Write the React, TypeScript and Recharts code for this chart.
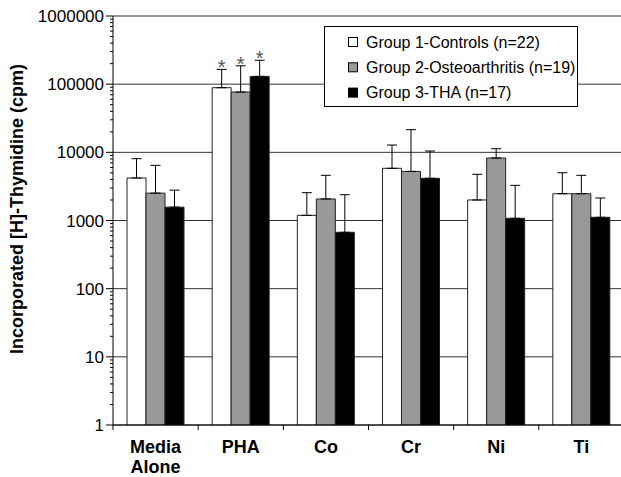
import React from "react";
import {
  Bar,
  BarChart,
  CartesianGrid,
  ErrorBar,
  LabelList,
  Legend,
  XAxis,
  YAxis,
} from "recharts";

const categories = ["Media Alone", "PHA", "Co", "Cr", "Ni", "Ti"];
const group1 = [4200, 88700, 1190, 5830, 2000, 2470];
const group1Top = [8070, 165000, 2560, 12800, 4760, 5020];
const group2 = [2520, 76700, 2070, 5250, 8260, 2470];
const group2Top = [6440, 186000, 4600, 21500, 11300, 4600];
const group3 = [1570, 130000, 671, 4160, 1077, 1114];
const group3Top = [2790, 224000, 2390, 10450, 3280, 2140];
const significant = [false, true, false, false, false, false];

const seriesNames = [
  "Group 1-Controls (n=22)",
  "Group 2-Osteoarthritis (n=19)",
  "Group 3-THA (n=17)",
];
const seriesColors = ["#ffffff", "#999999", "#000000"];

const decades = [1, 10, 100, 1000, 10000, 100000, 1000000];
const minorTicks = decades
  .slice(0, -1)
  .flatMap((d) => [2, 3, 4, 5, 6, 7, 8, 9].map((m) => m * d));
const yTicks = [...decades, ...minorTicks].sort((a, b) => a - b);

const data = categories.map((name, i) => ({
  name,
  g1: group1[i],
  g2: group2[i],
  g3: group3[i],
  g1Top: group1Top[i],
  g2Top: group2Top[i],
  g3Top: group3Top[i],
  star1: significant[i] ? group1Top[i] : null,
  star2: significant[i] ? group2Top[i] : null,
  star3: significant[i] ? group3Top[i] : null,
}));

const FONT = "'Liberation Sans', Arial, sans-serif";

const YTick = (props: any) => {
  const { x, y, payload } = props;
  const major = decades.includes(payload.value);
  return (
    <g>
      <line x1={x - (major ? 7 : 3)} x2={x} y1={y} y2={y} stroke="#000" />
      {major && (
        <text
          x={x - 9}
          y={y}
          dy="0.36em"
          textAnchor="end"
          fontSize={17}
          fontFamily={FONT}
          fill="#000"
        >
          {payload.value}
        </text>
      )}
    </g>
  );
};

const XTick = (props: any) => {
  const { x, y, payload } = props;
  const off = payload.offset ?? 0;
  const lines = String(payload.value).split(" ");
  return (
    <g>
      <line x1={x - off} x2={x - off} y1={y} y2={y + 5} stroke="#000" />
      <text
        x={x}
        y={y + 28}
        textAnchor="middle"
        fontSize={18}
        fontWeight="bold"
        fontFamily={FONT}
        fill="#000"
      >
        {lines.map((l, i) => (
          <tspan key={i} x={x} dy={i === 0 ? 0 : 20}>
            {l}
          </tspan>
        ))}
      </text>
    </g>
  );
};

const Star = (props: any) => {
  const { x, y, width, value } = props;
  if (value == null) return null;
  return (
    <text
      x={x + width / 2}
      y={y + 5}
      textAnchor="middle"
      fontSize={20}
      fontFamily={FONT}
      fill="#555"
    >
      *
    </text>
  );
};

const LegendBox = () => (
  <svg width={255} height={82} style={{ display: "block" }}>
    <rect x={0.5} y={0.5} width={253} height={80} fill="#fff" stroke="#000" />
    {seriesNames.map((n, i) => (
      <g key={n}>
        <rect
          x={24.5}
          y={11.5 + i * 25.3}
          width={9}
          height={9}
          fill={seriesColors[i]}
          stroke="#000"
        />
        <text
          x={42}
          y={16 + i * 25.3}
          dy="0.36em"
          fontSize={16}
          fontFamily={FONT}
          fill="#000"
        >
          {n}
        </text>
      </g>
    ))}
  </svg>
);

export default function App() {
  return (
    <div
      style={{
        position: "absolute",
        left: 0,
        top: 0,
        width: 621,
        height: 477,
        overflow: "hidden",
        background: "#fff",
      }}
    >
      <BarChart
        width={640}
        height={477}
        data={data}
        margin={{ top: 16, right: 16, bottom: 0, left: 0 }}
        barGap={0}
        barCategoryGap={14}
      >
        <CartesianGrid
          vertical={false}
          horizontalValues={decades}
          stroke="#333"
        />
        <XAxis
          dataKey="name"
          height={52}
          interval={0}
          tickSize={0}
          tickMargin={0}
          tickLine={false}
          tick={<XTick />}
          axisLine={{ stroke: "#000" }}
        />
        <XAxis dataKey="name" xAxisId="ghost" hide />
        <YAxis
          scale="log"
          domain={[1, 1000000]}
          allowDataOverflow
          ticks={yTicks}
          interval={0}
          width={113}
          tickSize={0}
          tickMargin={0}
          tickLine={false}
          tick={<YTick />}
          axisLine={{ stroke: "#000" }}
          label={{
            content: () => (
              <text
                x={0}
                y={0}
                transform="translate(23 209) rotate(-90)"
                textAnchor="middle"
                fontSize={18}
                fontWeight="bold"
                fontFamily={FONT}
                fill="#000"
              >
                Incorporated [H]-Thymidine (cpm)
              </text>
            ),
          }}
        />
        <Legend
          layout="horizontal"
          verticalAlign="middle"
          align="center"
          content={() => <LegendBox />}
          wrapperStyle={{ left: 324, top: 26, width: 255 }}
        />
        <Bar
          dataKey="g1"
          name={seriesNames[0]}
          fill={seriesColors[0]}
          stroke="#222"
          isAnimationActive={false}
        >
          <ErrorBar
            dataKey={(d: any) => [0, d.g1Top - d.g1]}
            width={5}
            stroke="#000"
            strokeWidth={1}
          />
        </Bar>
        <Bar
          dataKey="g2"
          name={seriesNames[1]}
          fill={seriesColors[1]}
          stroke="#222"
          isAnimationActive={false}
        >
          <ErrorBar
            dataKey={(d: any) => [0, d.g2Top - d.g2]}
            width={5}
            stroke="#000"
            strokeWidth={1}
          />
        </Bar>
        <Bar
          dataKey="g3"
          name={seriesNames[2]}
          fill={seriesColors[2]}
          stroke="#222"
          isAnimationActive={false}
        >
          <ErrorBar
            dataKey={(d: any) => [0, d.g3Top - d.g3]}
            width={5}
            stroke="#000"
            strokeWidth={1}
          />
        </Bar>
        {["star1", "star2", "star3"].map((k) => (
          <Bar
            key={k}
            dataKey={k}
            xAxisId="ghost"
            fill="none"
            stroke="none"
            isAnimationActive={false}
            legendType="none"
          >
            <LabelList dataKey={k} content={<Star />} />
          </Bar>
        ))}
      </BarChart>
    </div>
  );
}
